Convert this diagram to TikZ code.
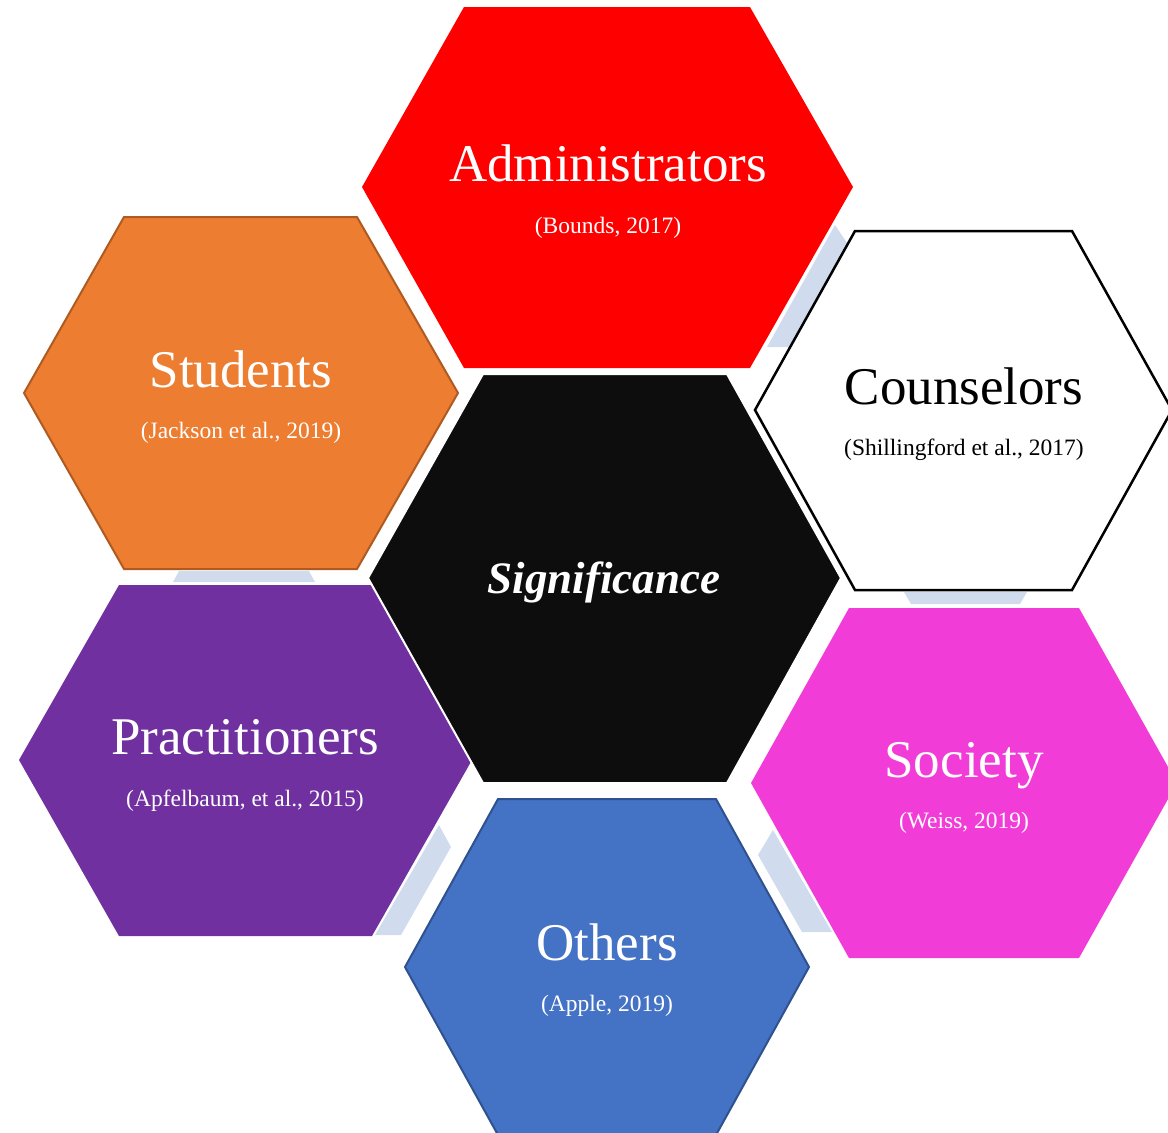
\documentclass[tikz,border=0pt]{standalone}
\usepackage{fontspec}
\setmainfont{Liberation Serif}
\usetikzlibrary{positioning}

\definecolor{hexred}{HTML}{FF0000}
\definecolor{hexorange}{HTML}{ED7D31}
\definecolor{hexorangeline}{HTML}{AE5A21}
\definecolor{hexpurple}{HTML}{7030A0}
\definecolor{hexblack}{HTML}{0D0D0D}
\definecolor{hexpink}{HTML}{F23CD8}
\definecolor{hexblue}{HTML}{4472C4}
\definecolor{hexblueline}{HTML}{2F528F}
\definecolor{linkblue}{HTML}{D0DCEE}

\tikzset{
	cell/.style={line join=miter},
	link/.style={fill=linkblue},
	title/.style={anchor=base,text=white,font=\fontsize{53}{60}\selectfont},
	cite/.style={anchor=base,text=white,font=\fontsize{23.5}{28}\selectfont},
}

\begin{document}
\begin{tikzpicture}[x=1pt,y=-1pt]
	\clip (0,0) rectangle (1168,1133);

	% light connectors behind the cells
	\fill[link] (767,347) -- (790,347) -- (847,243) -- (835,225) -- cycle;
	\fill[link] (173,582) -- (179,571) -- (309,571) -- (315,582) -- cycle;
	\fill[link] (375,935) -- (401,935) -- (451,847) -- (439,825) -- cycle;
	\fill[link] (758,855) -- (773,830) -- (832,932) -- (802,932) -- cycle;
	\fill[link] (904,592) -- (1027,592) -- (1020,604) -- (911,604) -- cycle;

	% outer cells
	\fill[cell,hexred] (362,187) -- (464,7) -- (750,7) -- (853,187) -- (750,368) -- (464,368) -- cycle;
	\filldraw[cell,fill=hexorange,draw=hexorangeline,line width=2] (24,393) -- (124,217) -- (357,217) -- (458,393) -- (357,569) -- (124,569) -- cycle;
	\filldraw[cell,fill=white,draw=black,line width=2.5] (755,410) -- (855,231) -- (1072,231) -- (1172,410) -- (1072,590) -- (855,590) -- cycle;
	\fill[cell,hexpink] (751,783) -- (849,608) -- (1079,608) -- (1177,783) -- (1079,958) -- (849,958) -- cycle;
	\filldraw[cell,fill=hexblue,draw=hexblueline,line width=2] (405,967) -- (498,799) -- (716,799) -- (809,967) -- (716,1135) -- (498,1135) -- cycle;
	\fill[cell,hexpurple] (19,760) -- (119,585) -- (372,585) -- (472,760) -- (372,936) -- (119,936) -- cycle;

	% middle cell
	\filldraw[cell,fill=hexblack,draw=white,line width=2] (368,578) -- (483,374) -- (727,374) -- (841,578) -- (727,783) -- (483,783) -- cycle;

	% labels
	\node[title] (adm) at (608,181) {Administrators};
	\node[cite] (admRef) at (608,233) {(Bounds, 2017)};
	\node[title] (stu) at (241,387) {Students};
	\node[cite] (stuRef) at (241,438) {(Jackson et al., 2019)};
	\node[title,text=black] (cou) at (964,404) {Counselors};
	\node[cite,text=black] (couRef) at (964,455) {(Shillingford et al., 2017)};
	\node[title] (soc) at (964,777) {Society};
	\node[cite] (socRef) at (964,828) {(Weiss, 2019)};
	\node[title] (oth) at (607,960) {Others};
	\node[cite] (othRef) at (607,1011) {(Apple, 2019)};
	\node[title] (pra) at (245,754) {Practitioners};
	\node[cite] (praRef) at (245,806) {(Apfelbaum, et al., 2015)};
	\node[anchor=base,text=white,font=\fontsize{45}{54}\selectfont\bfseries\itshape] (sig) at (604,593) {Significance};
\end{tikzpicture}
\end{document}
